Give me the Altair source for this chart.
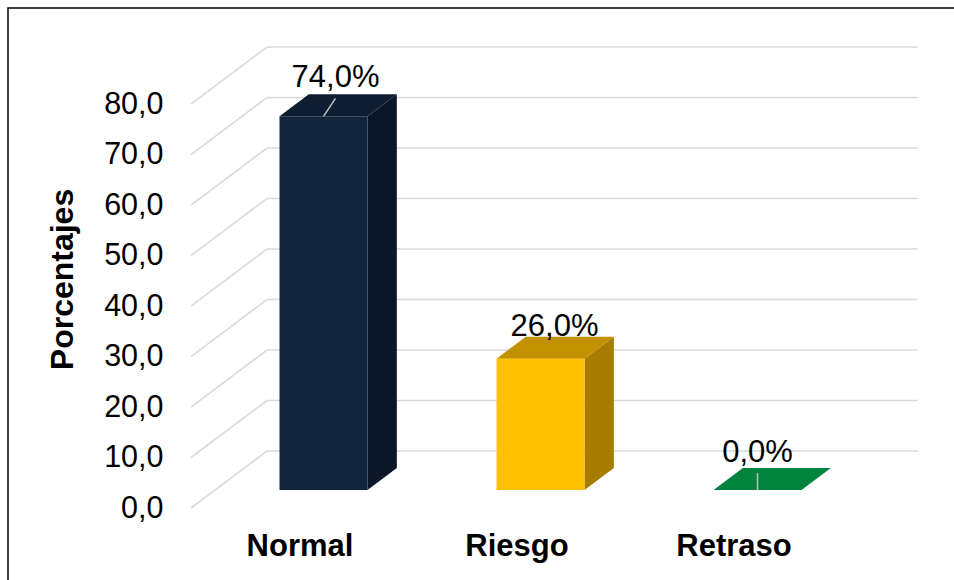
import json
import altair as alt
import pandas as pd

# ---------------- data ----------------
categories = ["Normal", "Riesgo", "Retraso"]
percentages = [74.0, 26.0, 0.0]
tick_values = [0, 10, 20, 30, 40, 50, 60, 70, 80]

front_colors = ["#13243D", "#FFC000", "#00843D"]
top_colors = ["#0F1D33", "#C29100", "#00843D"]
side_colors = ["#0B1628", "#A67D00", "#006B31"]

# label nudges (pixels): right shift, height above bar front top
label_dx_px = [12, 14, 0]
label_up_px = [29, 23, 28]
show_leader = [True, False, True]

# ---------------- geometry (style) ----------------
W, H = 727, 462
X_MAX = 3.35
Y_MAX = 91.5
KX = W / X_MAX          # px per x unit
KY = H / Y_MAX          # px per value unit
SLOPE = 4.0 / 3.0       # x shift per vertical depth shift
WALL_D = 57             # depth of back wall (vertical px)
BF_D = 18               # depth of bar front
BB_D = 40               # depth of bar back
HALF_W = 44             # half bar width px


def dxu(d):
    return d * SLOPE / KX


def dyu(d):
    return d / KY


xs = alt.Scale(domain=[0, X_MAX], nice=False, zero=False)
ys = alt.Scale(domain=[0, Y_MAX], nice=False, zero=False)

FONT = "Liberation Sans"
cat_expr = json.dumps(categories) + "[floor(datum.value)]"

XAXIS = alt.Axis(
    values=[i + 0.5 for i in range(len(categories))],
    labelExpr=cat_expr, domain=False, ticks=False, tickSize=0, grid=False,
    labelFont=FONT, labelFontSize=31, labelFontWeight="bold", labelColor="#000000",
    labelBaseline="alphabetic", labelPadding=47, title=None)
YAXIS = alt.Axis(
    values=tick_values,
    labelExpr="replace(format(datum.value, '.1f'), '.', ',')",
    domain=False, ticks=False, tickSize=0, grid=False,
    labelFont=FONT, labelFontSize=30.5, labelColor="#000000", labelPadding=28,
    title="Porcentajes", titleFont=FONT, titleFontSize=32, titleFontWeight="bold",
    titleColor="#000000", titleAngle=-90, titleBaseline="alphabetic",
    titleAlign="center", titleX=-119, titleY=H / 2 + 2)


def X(field, **kw):
    return alt.X(field, scale=xs, axis=XAXIS, **kw)


def Y(field, **kw):
    return alt.Y(field, scale=ys, axis=YAXIS, **kw)


# ---------------- gridlines ----------------
grid_h = pd.DataFrame({
    "x": [dxu(WALL_D)] * len(tick_values),
    "x2": [X_MAX] * len(tick_values),
    "y": [v + dyu(WALL_D) for v in tick_values],
})
grid_d = pd.DataFrame({
    "x": [0.0] * len(tick_values),
    "x2": [dxu(WALL_D)] * len(tick_values),
    "y": [float(v) for v in tick_values],
    "y2": [v + dyu(WALL_D) for v in tick_values],
})

# ---------------- bar faces ----------------
front_rows, side_rows, top_rows, label_rows, leader_rows = [], [], [], [], []
for i, (c, v) in enumerate(zip(categories, percentages)):
    xc = i + 0.5 + dxu(BF_D)
    xl = xc - HALF_W / KX
    xr = xc + HALF_W / KX
    ddx = dxu(BB_D) - dxu(BF_D)
    yf0 = dyu(BF_D)
    yb0 = dyu(BB_D)
    front_rows.append({"cat": c, "x": xl, "x2": xr, "y": yf0, "y2": v + yf0, "fill": front_colors[i]})
    side_rows += [
        {"cat": c, "x": xr, "yt": v + yf0, "yb": yf0, "fill": side_colors[i]},
        {"cat": c, "x": xr + ddx, "yt": v + yb0, "yb": yb0, "fill": side_colors[i]},
    ]
    top_rows += [
        {"cat": c, "y": v + yf0, "x": xl, "x2": xr, "fill": top_colors[i]},
        {"cat": c, "y": v + yb0, "x": xl + ddx, "x2": xr + ddx, "fill": top_colors[i]},
    ]
    lx = xc + label_dx_px[i] / KX
    ly = v + yf0 + label_up_px[i] / KY
    label_rows.append({"cat": c, "x": lx, "y": ly,
                       "text": ("%.1f" % v).replace(".", ",") + "%"})
    if show_leader[i]:
        leader_rows.append({"x": xc, "y": v + yf0, "x2": lx, "y2": ly - 11 / KY})

front_df = pd.DataFrame(front_rows)
side_df = pd.DataFrame(side_rows)
top_df = pd.DataFrame(top_rows)
label_df = pd.DataFrame(label_rows)
leader_df = pd.DataFrame(leader_rows)

grid_layer = alt.Chart(grid_h).mark_rule(color="#D9D9D9", strokeWidth=1.6).encode(
    x=X("x:Q"), x2="x2:Q", y=Y("y:Q"),
)

diag_layer = alt.Chart(grid_d).mark_rule(color="#D9D9D9", strokeWidth=1.6).encode(
    x=X("x:Q"), x2="x2:Q", y=Y("y:Q"), y2="y2:Q",
)

side_layer = alt.Chart(side_df).mark_area(orient="vertical").encode(
    x=X("x:Q"),
    y=Y("yt:Q", stack=None), y2="yb:Q",
    detail="cat:N",
    fill=alt.Fill("fill:N", scale=None),
)

top_layer = alt.Chart(top_df).mark_area(orient="horizontal").encode(
    y=Y("y:Q"),
    x=X("x:Q", stack=None), x2="x2:Q",
    detail="cat:N",
    fill=alt.Fill("fill:N", scale=None),
)

front_layer = alt.Chart(front_df).mark_rect().encode(
    x=X("x:Q"), x2="x2:Q", y=Y("y:Q"), y2="y2:Q",
    fill=alt.Fill("fill:N", scale=None),
)

leader_layer = alt.Chart(leader_df).mark_rule(color="#BFBFBF", strokeWidth=1.5).encode(
    x=X("x:Q"), x2="x2:Q", y=Y("y:Q"), y2="y2:Q",
)

label_layer = alt.Chart(label_df).mark_text(
    font=FONT, fontSize=31, color="#000000", align="center", baseline="alphabetic"
).encode(
    x=X("x:Q"), y=Y("y:Q"), text="text:N",
)

frame_layer = alt.Chart(pd.DataFrame({"a": [0]})).mark_rect(
    fill=None, stroke="#000000", strokeWidth=1.5
).encode(
    x=alt.value(8 - 191), x2=alt.value(1000), y=alt.value(8 - 46), y2=alt.value(700),
)

chart = alt.layer(
    grid_layer, diag_layer, side_layer, top_layer, front_layer,
    leader_layer, label_layer, frame_layer,
).properties(
    width=W, height=H,
    autosize=alt.AutoSizeParams(type="none"),
    padding={"left": 191, "top": 46, "right": 36, "bottom": 72},
    background="#FFFFFF",
).configure_view(stroke=None)

chart.save("out.html", embed_options={"renderer": "svg", "actions": False})
